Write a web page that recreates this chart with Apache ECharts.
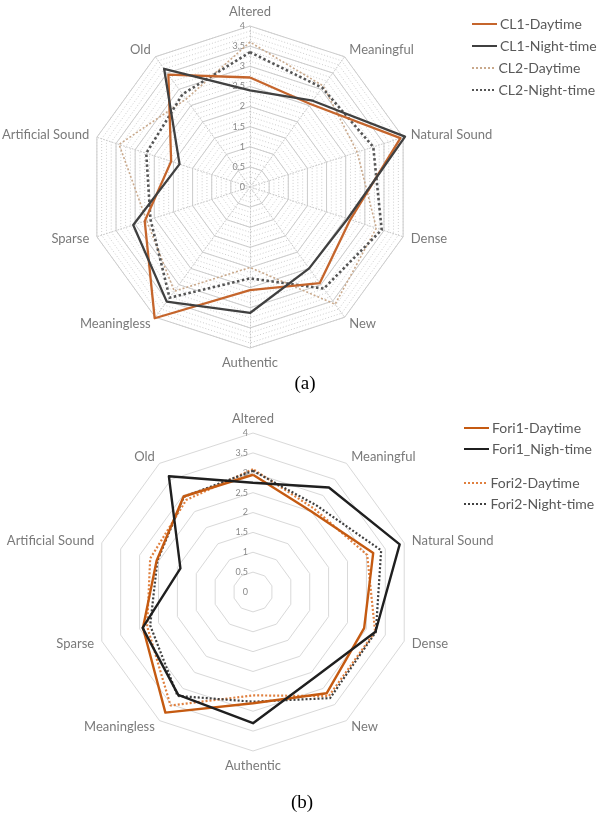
<!DOCTYPE html>
<html>
<head>
<meta charset="utf-8">
<script src="https://cdn.jsdelivr.net/npm/echarts@6/dist/echarts.min.js"></script>
<style>
  html, body { margin: 0; padding: 0; background: #ffffff; }
  #chart { width: 597px; height: 819px; }
</style>
</head>
<body>
<div id="chart"></div>
<script>
// Attributes, listed clockwise starting from the top axis
const attributes = ['Altered', 'Meaningful', 'Natural Sound', 'Dense', 'New',
                    'Authentic', 'Meaningless', 'Sparse', 'Artificial Sound', 'Old'];
const tickLabels = ['0', '0.5', '1', '1.5', '2', '2.5', '3', '3.5', '4'];

// (a) CL sites
const cl1Daytime   = [2.72, 2.55, 3.93, 2.62, 2.95, 2.56, 4.03, 2.75, 2.06, 3.45];
const cl1NightTime = [2.40, 2.65, 4.05, 2.55, 2.50, 3.13, 3.52, 3.05, 1.84, 3.63];
const cl2Daytime   = [3.60, 3.10, 2.80, 3.30, 3.60, 2.00, 3.20, 2.70, 3.42, 2.70];
const cl2NightTime = [3.35, 3.05, 3.22, 3.44, 3.12, 2.27, 3.40, 2.60, 2.71, 2.85];

// (b) Fori sites
const fori1Daytime   = [2.95, 2.50, 3.18, 2.94, 3.15, 2.80, 3.75, 2.91, 2.55, 2.97];
const fori1NighTime  = [2.75, 3.25, 3.88, 3.24, 2.65, 3.30, 3.20, 2.92, 1.92, 3.60];
const fori2Daytime   = [3.09, 2.60, 3.02, 3.23, 3.24, 2.60, 3.53, 2.80, 2.72, 2.86];
const fori2NightTime = [3.05, 2.70, 3.39, 3.25, 3.30, 2.76, 3.23, 2.72, 2.53, 2.96];

const AXIS_MAX = 4;
const FONT = 'Lato, "Open Sans", sans-serif';

// ECharts lays radar axes out counter-clockwise; reorder so they run clockwise.
function clockwise(arr) { return [arr[0]].concat(arr.slice(1).reverse()); }

function indicators(showTicks) {
  return clockwise(attributes).map(function (name, i) {
    const ind = { name: name, min: 0, max: AXIS_MAX };
    if (showTicks && i === 0) {
      ind.axisLabel = {
        show: true,
        fontSize: 9,
        color: '#8a8a8a',
        fontFamily: FONT,
        margin: 5,
        formatter: function (v) { return tickLabels[Math.round(v / 0.5)]; }
      };
    }
    return ind;
  });
}

const solidIcon = 'rect';
const dottedIcon = 'path://M0,0h2v2h-2z M4,0h2v2h-2z M8,0h2v2h-2z M12,0h2v2h-2z M16,0h2v2h-2z M20,0h2v2h-2z';

function legendAt(name, icon, left, top) {
  return {
    data: [{ name: name, icon: icon }],
    left: left, top: top,
    itemWidth: 25, itemHeight: 2, itemGap: 0,
    textStyle: { color: '#595959', fontSize: 14, fontFamily: FONT, padding: [0, 0, 0, -2] },
    itemStyle: { borderWidth: 0 }
  };
}

function radarSeries(name, values, radarIndex, color, width, dash, z) {
  return {
    type: 'radar',
    radarIndex: radarIndex,
    symbol: 'none',
    silent: true,
    z: z,
    itemStyle: { color: color },
    lineStyle: { color: color, width: width, type: dash },
    data: [{ name: name, value: clockwise(values) }]
  };
}

const nameStyle = { color: '#7a7a7a', fontSize: 13, fontFamily: FONT };

const chart = echarts.init(document.getElementById('chart'), null, { renderer: 'canvas' });
chart.setOption({
  animation: false,
  backgroundColor: '#ffffff',
  title: [
    { text: '(a)', left: 300, top: 370, textAlign: 'center',
      textStyle: { fontFamily: '"Liberation Serif", "Times New Roman", serif', fontSize: 19, fontWeight: 'normal', color: '#000' } },
    { text: '(b)', left: 297, top: 789, textAlign: 'center',
      textStyle: { fontFamily: '"Liberation Serif", "Times New Roman", serif', fontSize: 19, fontWeight: 'normal', color: '#000' } }
  ],
  legend: [
    legendAt('CL1-Daytime', solidIcon, 467, 12),
    legendAt('CL1-Night-time', solidIcon, 467, 34),
    legendAt('CL2-Daytime', dottedIcon, 467, 56),
    legendAt('CL2-Night-time', dottedIcon, 467, 78),
    legendAt('Fori1-Daytime', solidIcon, 459, 416),
    legendAt('Fori1_Nigh-time', solidIcon, 459, 437),
    legendAt('Fori2-Daytime', dottedIcon, 459, 471),
    legendAt('Fori2-Night-time', dottedIcon, 459, 492)
  ],
  radar: [
    { // (a)
      center: [250, 187], radius: 161, startAngle: 90, shape: 'polygon', splitNumber: 8,
      indicator: indicators(true),
      axisName: nameStyle, nameGap: 8,
      splitLine: { lineStyle: { color: '#cccccc', width: 1 } },
      splitArea: { show: false },
      axisLine: { show: false }, axisTick: { show: false }
    },
    { // (a) fine dotted texture grid
      center: [250, 187], radius: 161, startAngle: 90, shape: 'polygon', splitNumber: 32,
      indicator: indicators(false),
      axisName: { show: false },
      splitLine: { lineStyle: { color: '#cfcfcf', width: 1, type: [1, 2] } },
      splitArea: { show: false },
      axisLine: { show: true, lineStyle: { color: '#c8c8c8', type: [1, 2] } }, axisTick: { show: false }
    },
    { // (b)
      center: [253, 592], radius: 159, startAngle: 90, shape: 'polygon', splitNumber: 8,
      indicator: indicators(true),
      axisName: nameStyle, nameGap: 8,
      splitLine: { lineStyle: { color: '#d9d9d9', width: 1 } },
      splitArea: { show: false },
      axisLine: { show: false }, axisTick: { show: false }
    }
  ],
  series: [
    radarSeries('CL2-Daytime', cl2Daytime, 0, '#c9a98c', 1.6, [2, 2], 2),
    radarSeries('CL2-Night-time', cl2NightTime, 0, '#555555', 2.6, [2.5, 2.5], 3),
    radarSeries('CL1-Daytime', cl1Daytime, 0, '#c5652c', 2.3, 'solid', 4),
    radarSeries('CL1-Night-time', cl1NightTime, 0, '#404040', 2.3, 'solid', 5),
    radarSeries('Fori2-Daytime', fori2Daytime, 2, '#e0803f', 2.2, [2, 2], 2),
    radarSeries('Fori2-Night-time', fori2NightTime, 2, '#404040', 2.2, [2, 2], 3),
    radarSeries('Fori1-Daytime', fori1Daytime, 2, '#c55a11', 2.4, 'solid', 4),
    radarSeries('Fori1_Nigh-time', fori1NighTime, 2, '#1f1f1f', 2.4, 'solid', 5)
  ]
});
</script>
</body>
</html>
